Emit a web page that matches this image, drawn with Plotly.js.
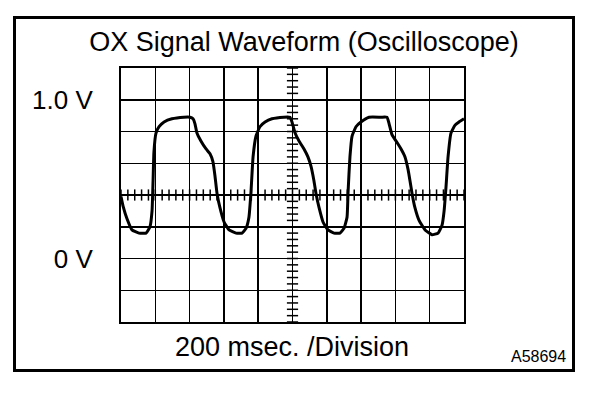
<!DOCTYPE html>
<html><head><meta charset="utf-8">
<script src="https://cdn.plot.ly/plotly-3.0.1.min.js"></script>
<style>html,body{margin:0;padding:0;background:#fff;}#chart{width:608px;height:398px;}</style>
</head><body><div id="chart"></div>
<script>
const titleText = "OX Signal Waveform (Oscilloscope)";
const xLabel = "200 msec. /Division";
const figId = "A58694";

// waveform samples (time in ms, voltage in V)
const timeMs = [0,12,35,64,105,146,169,181,187,192,204,222,251,297,367,402,420,431,443,466,496,519,536,548,560,577,601,630,671,706,729,746,758,770,787,810,840,880,950,985,997,1015,1038,1067,1090,1108,1125,1137,1155,1178,1207,1242,1277,1300,1318,1324,1335,1347,1370,1399,1446,1516,1551,1563,1580,1604,1633,1656,1674,1685,1697,1714,1738,1773,1813,1849,1872,1884,1895,1907,1924,1948,1971,2000];
const volts  = [0.39,0.33,0.25,0.18,0.16,0.16,0.20,0.30,0.49,0.67,0.79,0.83,0.86,0.88,0.89,0.89,0.88,0.85,0.79,0.74,0.69,0.66,0.61,0.52,0.41,0.32,0.23,0.18,0.16,0.16,0.19,0.26,0.42,0.64,0.77,0.83,0.86,0.88,0.89,0.89,0.86,0.79,0.74,0.69,0.64,0.58,0.49,0.41,0.32,0.23,0.18,0.16,0.16,0.19,0.26,0.42,0.64,0.77,0.83,0.86,0.89,0.89,0.89,0.85,0.78,0.74,0.69,0.64,0.56,0.49,0.41,0.32,0.24,0.18,0.15,0.16,0.21,0.30,0.45,0.64,0.79,0.84,0.86,0.88];

const xGrid = [0,200,400,600,800,1000,1200,1400,1600,1800,2000];
const yGrid = [-0.4,-0.2,0,0.2,0.4,0.6,0.8,1.0,1.2];
const yTickText = ['','','0 V','','','','','1.0 V',''];

// centre graticule subdivision marks (5 per division)
const xMid = 1000, yMid = 0.4;
const xSub = [], ySub = [];
for (let i = 0; i < xGrid.length - 1; i++) for (let k = 0; k < 5; k++) xSub.push(xGrid[i] + k * (xGrid[i+1]-xGrid[i]) / 5);
xSub.push(xGrid[xGrid.length-1]);
for (let i = 0; i < yGrid.length - 1; i++) for (let k = 0; k < 5; k++) ySub.push(yGrid[i] + k * (yGrid[i+1]-yGrid[i]) / 5);
ySub.push(yGrid[yGrid.length-1]);

const W = 608, H = 398;
const L = 121, R = 464, T = 68, B = 322;
const px2x = p => (p - L) / (R - L);
const px2y = p => (B - p) / (B - T);

const font = "Liberation Sans, Arial, Helvetica, sans-serif";

const traces = [
  {x: xSub, y: xSub.map(() => yMid), mode: 'markers', hoverinfo: 'skip',
   marker: {symbol: 'line-ns', size: 8, color: '#000', line: {width: 1.5, color: '#000'}}},
  {x: ySub.map(() => xMid), y: ySub, mode: 'markers', hoverinfo: 'skip',
   marker: {symbol: 'line-ew', size: 8, color: '#000', line: {width: 1.5, color: '#000'}}},
  {x: timeMs, y: volts, mode: 'lines', hoverinfo: 'skip',
   line: {color: '#000', width: 3, shape: 'spline', smoothing: 0.4}}
];

const layout = {
  width: W, height: H,
  margin: {l: L, r: W - R, t: T, b: H - B, pad: 0},
  paper_bgcolor: '#fff', plot_bgcolor: '#fff',
  showlegend: false,
  font: {family: font, color: '#000'},
  title: {text: titleText, font: {family: font, size: 27, color: '#000'},
          x: 0.5, xref: 'container', xanchor: 'center',
          y: 1 - 42 / H, yref: 'container', yanchor: 'middle'},
  xaxis: {range: [xGrid[0], xGrid[xGrid.length-1]], tickvals: xGrid, ticktext: xGrid.map(() => ''),
          showgrid: true, gridcolor: '#000', gridwidth: 1.5, zeroline: false,
          showline: true, linecolor: '#000', linewidth: 2, mirror: true, ticks: '', fixedrange: true},
  yaxis: {range: [yGrid[0], yGrid[yGrid.length-1]], tickvals: yGrid, ticktext: yTickText,
          showgrid: true, gridcolor: '#000', gridwidth: 1.5, zeroline: false,
          showline: true, linecolor: '#000', linewidth: 2, mirror: true, ticks: '',
          tickfont: {family: font, size: 26, color: '#000'}, ticklabelstandoff: 21, fixedrange: true},
  shapes: [
    {type: 'rect', xref: 'paper', yref: 'paper',
     x0: px2x(14.5), x1: px2x(573.5), y0: px2y(370.5), y1: px2y(17.5),
     line: {color: '#000', width: 3}, fillcolor: 'rgba(0,0,0,0)', layer: 'above'}
  ],
  annotations: [
    {text: xLabel, xref: 'paper', yref: 'paper', x: px2x(292), y: px2y(347),
     xanchor: 'center', yanchor: 'middle', showarrow: false,
     font: {family: font, size: 27, color: '#000'}},
    {text: figId, xref: 'paper', yref: 'paper', x: px2x(538), y: px2y(356),
     xanchor: 'center', yanchor: 'middle', showarrow: false,
     font: {family: font, size: 16, color: '#000'}}
  ]
};

Plotly.newPlot('chart', traces, layout, {displayModeBar: false, staticPlot: true});
</script>
</body></html>
